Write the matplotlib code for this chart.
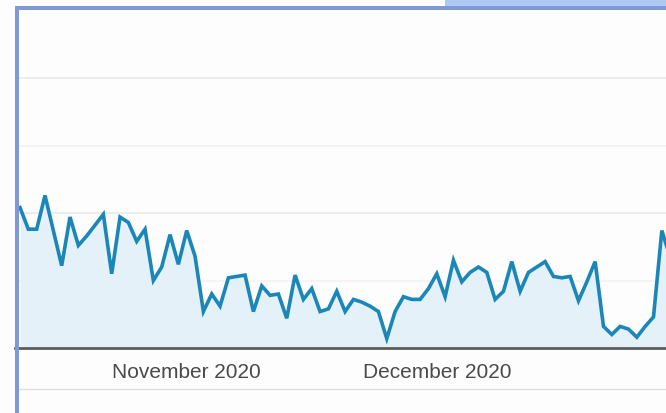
import numpy as np
import pandas as pd
import matplotlib
matplotlib.use("Agg")
import matplotlib.pyplot as plt
from matplotlib.patches import Rectangle
from matplotlib.lines import Line2D

# daily sessions, 12 Oct - 29 Dec 2020
start_date = "2020-10-12"
sessions = [104, 88, 88, 113, 87, 61, 97, 76, 83, 91,
            99, 55, 97, 93, 79, 88, 50, 60, 84, 62,
            87, 68, 27, 40, 31, 52, 53, 54, 27, 46,
            39, 40, 22, 54, 36, 44, 27, 29, 42, 27,
            36, 34, 31, 27, 7, 27, 38, 36, 36, 44,
            55, 38, 65, 49, 56, 60, 56, 36, 42, 64,
            42, 56, 60, 64, 53, 52, 53, 35, 49, 64,
            16, 10, 16, 14, 8, 16, 23, 87, 67]
tick_dates = ["2020-11-01", "2020-12-01"]
tick_labels = ["November 2020", "December 2020"]

W, H = 666, 414
days = pd.date_range(start_date, periods=len(sessions))
vals = np.array(sessions)

plt.rcParams["font.family"] = ["Liberation Sans", "DejaVu Sans"]
fig = plt.figure(figsize=(W / 100, H / 100), dpi=100)
fig.patch.set_facecolor("#fdfdfd")

# plot area in pixel terms: left 15, right 666, baseline 349, top 11.5
ax = fig.add_axes([15 / W, (H - 349) / H, (W - 15) / W, (349 - 11.5) / H])
ax.set_facecolor("#fdfdfd")

ax.fill_between(days, vals, 0, color="#e4f1f8", lw=0, zorder=1)
ax.plot(days, vals, color="#1b87b8", lw=2.6, solid_joinstyle="miter", zorder=3)

for g in [50, 100, 150, 200]:
    c = "#e9e9e9" if g % 100 == 0 else "#f3f3f3"
    ax.axhline(g, color=c, lw=1.2, zorder=0.5)

ax.set_ylim(0, 250)
ax.set_xlim(days[0] - pd.Timedelta(days=0.6), days[0] + pd.Timedelta(days=77.5))
ax.set_yticks([])
ax.set_xticks(pd.to_datetime(tick_dates))
ax.set_xticklabels(tick_labels, fontsize=15, color="#4a4a4a")
ax.tick_params(axis="x", length=0, pad=10)

for s in ["top", "left", "right"]:
    ax.spines[s].set_visible(False)
ax.spines["bottom"].set_color("#5c5c5c")
ax.spines["bottom"].set_linewidth(2)
ax.spines["bottom"].set_zorder(4)

# thin rule below the date labels
fig.add_artist(Line2D([19 / W, 1], [(H - 390) / H] * 2, color="#e0e0e0", lw=1))

# selection frame and tab
fig.add_artist(Rectangle((445 / W, (H - 7) / H), (W - 445) / W, 7 / H,
                         facecolor="#adc8f1", edgecolor="none"))
fig.add_artist(Rectangle((15 / W, (H - 11) / H), (W - 15) / W, 4 / H,
                         facecolor="#7f98d6", edgecolor="none"))
fig.add_artist(Rectangle((15 / W, 0), 4 / W, (H - 7) / H,
                         facecolor="#7f98d6", edgecolor="none"))

fig.savefig("out.png", dpi=100, facecolor=fig.get_facecolor())
